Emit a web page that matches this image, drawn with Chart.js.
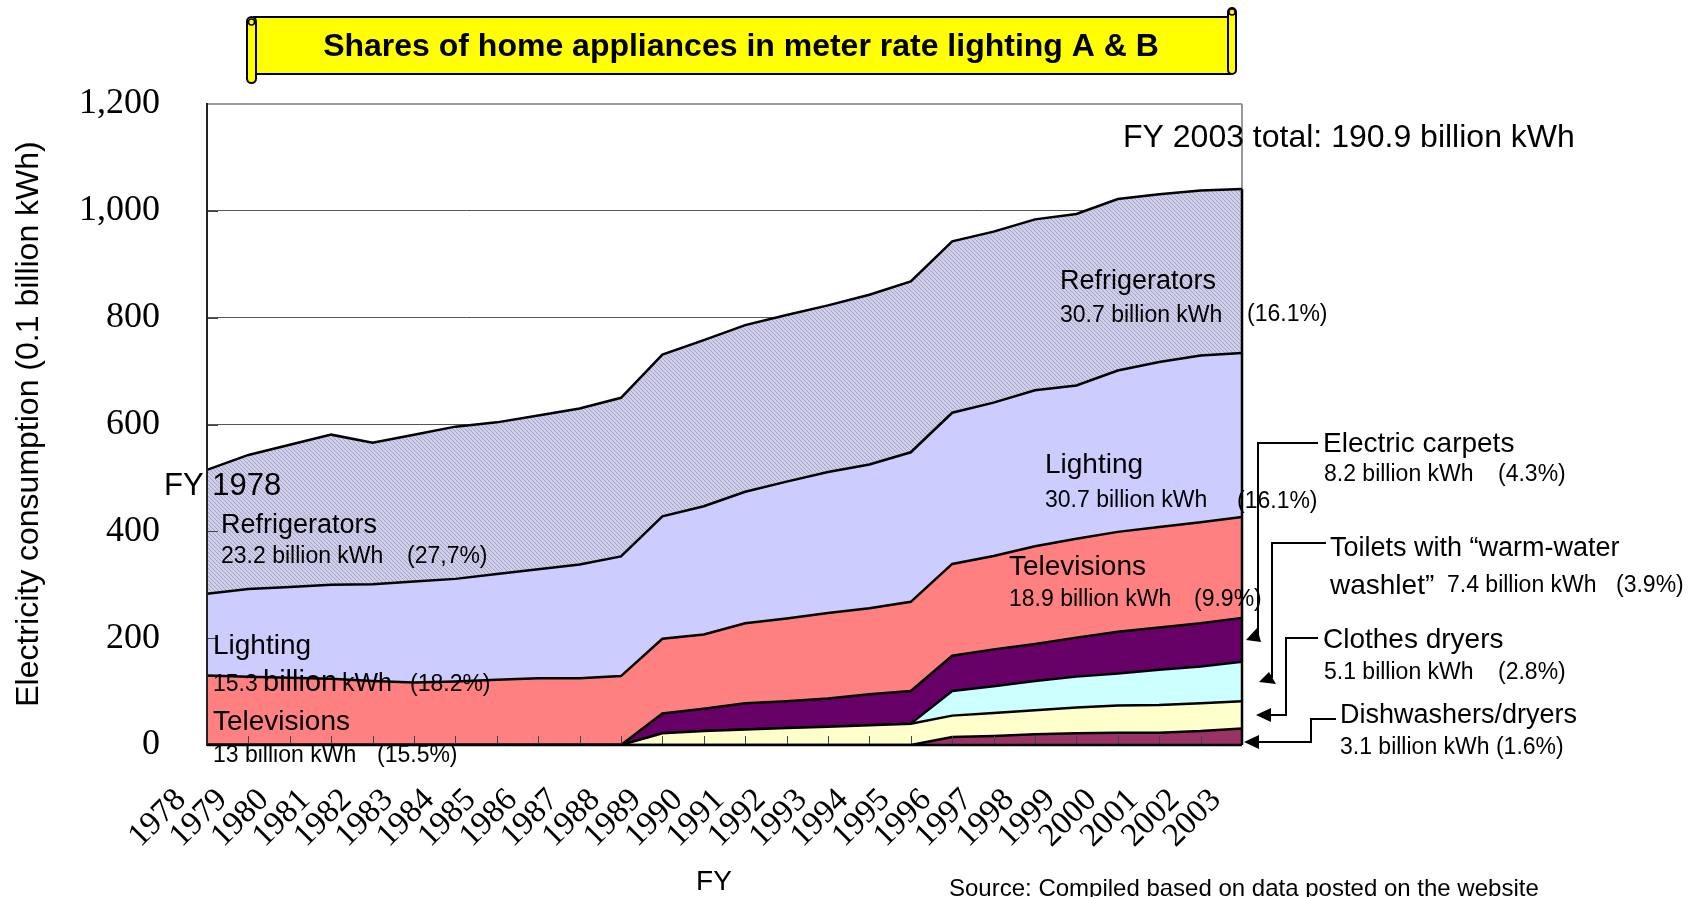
<!DOCTYPE html>
<html>
<head>
<meta charset="utf-8">
<title>Shares of home appliances in meter rate lighting A & B</title>
<script src="https://cdn.jsdelivr.net/npm/chart.js@4.4.1/dist/chart.umd.min.js"></script>
<style>
  html, body { margin: 0; padding: 0; background: #fff; }
  #wrap { width: 1690px; height: 897px; }
</style>
</head>
<body>
<div id="wrap"><canvas id="chart" width="1690" height="897"></canvas></div>
<script>
// fiscal years on the x axis
const years = ['1978', '1979', '1980', '1981', '1982', '1983', '1984', '1985', '1986', '1987', '1988', '1989', '1990',
    '1991', '1992', '1993', '1994', '1995', '1996', '1997', '1998', '1999', '2000', '2001', '2002', '2003'];

// consumption per appliance, unit 0.1 billion kWh (stacked bottom -> top)
const dishwashers = [0, 0, 0, 0, 0, 0, 0, 0, 0, 0, 0, 0, 0, 0, 0, 0, 0, 0, 15, 17, 20, 22, 23, 23, 26, 31];
const clothesDryers = [0, 0, 0, 0, 0, 0, 0, 0, 0, 0, 0, 22, 26, 29, 32, 34, 37, 40, 40, 43, 45, 48, 51, 52, 52, 51];
const toilets = [0, 0, 0, 0, 0, 0, 0, 0, 0, 0, 0, 0, 0, 0, 0, 0, 0, 0, 46, 50, 55, 58, 60, 66, 69, 74];
const carpets = [0, 0, 0, 0, 0, 0, 0, 0, 0, 0, 0, 37, 42, 49, 50, 53, 58, 61, 66, 69, 69, 73, 78, 79, 81, 82];
const televisions = [130, 128, 126, 124, 120, 117, 119, 122, 125, 125, 129, 140, 139, 150, 155, 160, 161, 167, 172, 175,
    183, 185, 187, 188, 189, 189];
const lighting = [153, 164, 170, 176, 181, 189, 192, 198, 204, 213, 224, 229, 240, 246, 256, 264, 269, 280, 283, 287,
    292, 287, 302, 309, 312, 307];
const refrigerators = [232, 251, 266, 281, 265, 275, 285, 284, 288, 292, 297, 303, 311, 312, 312, 312, 318, 320, 321, 320,
    320, 321, 321, 314, 309, 307];

const SANS = "'Liberation Sans', Arial, sans-serif";
const SERIF = "'Liberation Serif', 'Times New Roman', serif";

/**
 * fine diagonal hatch used for the refrigerator band
 */
function hatchPattern() {
    const c = document.createElement('canvas');
    c.width = 4;
    c.height = 4;
    const g = c.getContext('2d');
    g.fillStyle = '#CFCFEA';
    g.fillRect(0, 0, 4, 4);
    g.strokeStyle = '#A4A4CA';
    g.lineWidth = 1;
    g.beginPath();
    g.moveTo(-1, -1);
    g.lineTo(5, 5);
    g.moveTo(-1, 3);
    g.lineTo(1, 5);
    g.moveTo(3, -1);
    g.lineTo(5, 1);
    g.stroke();
    return g.createPattern(c, 'repeat');
}

// text annotations: [text, x, y, size, baseline]
const notes = [
    ['FY 2003 total: 190.9 billion kWh', 1123, 138, 32],
    ['FY 1978', 164, 486, 31],
    ['Refrigerators', 221, 526, 27],
    ['23.2 billion kWh', 221, 557, 23],
    ['(27,7%)', 407, 557, 23],
    ['Lighting', 213, 646, 28],
    ['15.3', 213, 691, 23, 'alphabetic'],
    ['billion', 263, 691, 29, 'alphabetic'],
    ['kWh', 342, 691, 25, 'alphabetic'],
    ['(18.2%)', 410, 691, 23, 'alphabetic'],
    ['Televisions', 213, 722, 28],
    ['13 billion kWh', 213, 756, 23],
    ['(15.5%)', 377, 756, 23],
    ['Refrigerators', 1060, 282, 27],
    ['30.7 billion kWh', 1060, 316, 23],
    ['(16.1%)', 1247, 315, 23],
    ['Lighting', 1045, 465, 28],
    ['30.7 billion kWh', 1045, 501, 23],
    ['(16.1%)', 1237, 502, 23],
    ['Televisions', 1009, 567, 28],
    ['18.9 billion kWh', 1009, 600, 23],
    ['(9.9%)', 1194, 600, 23],
    ['Electric carpets', 1323, 444, 28],
    ['8.2 billion kWh', 1324, 475, 23],
    ['(4.3%)', 1498, 475, 23],
    ['Toilets with \u201cwarm-water', 1330, 549, 27],
    ['washlet\u201d', 1330, 586, 28],
    ['7.4 billion kWh', 1447, 586, 23],
    ['(3.9%)', 1616, 586, 23],
    ['Clothes dryers', 1323, 640, 28],
    ['5.1 billion kWh', 1324, 673, 23],
    ['(2.8%)', 1498, 673, 23],
    ['Dishwashers/dryers', 1340, 716, 27],
    ['3.1 billion kWh (1.6%)', 1340, 748, 23],
    ['Source: Compiled based on data posted on the website', 949, 889, 24]
];

// call-out lines from the right-hand labels: polyline + arrow head
const callouts = [
    { path: [[1318, 443], [1258, 443], [1258, 636]], head: [[1257, 628], [1261, 642], [1246, 640]] },
    { path: [[1326, 543], [1272, 543], [1272, 678]], head: [[1269, 672], [1276, 684], [1259, 682]] },
    { path: [[1318, 638], [1286, 638], [1286, 715], [1268, 715]], head: [[1256, 715], [1271, 708], [1271, 722]] },
    { path: [[1336, 719], [1311, 719], [1311, 742], [1258, 742]], head: [[1244, 742], [1259, 735], [1259, 749]] }
];

function roundBox(c, x, y, w, h, r) {
    c.beginPath();
    c.moveTo(x + r, y);
    c.arcTo(x + w, y, x + w, y + h, r);
    c.arcTo(x + w, y + h, x, y + h, r);
    c.arcTo(x, y + h, x, y, r);
    c.arcTo(x, y, x + w, y, r);
    c.closePath();
    c.fill();
    c.stroke();
}

// yellow scroll with the title
function drawBanner(c) {
    c.save();
    c.fillStyle = '#FFFF00';
    c.strokeStyle = '#000';
    c.lineWidth = 2;
    c.beginPath();
    c.rect(254, 17, 976, 57);
    c.fill();
    c.stroke();
    roundBox(c, 247, 17, 9, 66, 4.5);
    roundBox(c, 1228, 8, 8, 66, 4);
    c.lineWidth = 1.5;
    c.beginPath();
    c.arc(251.5, 22, 3, 0, Math.PI * 2);
    c.stroke();
    c.beginPath();
    c.arc(1232, 12, 3, 0, Math.PI * 2);
    c.stroke();
    c.fillStyle = '#000';
    c.font = 'bold 32px ' + SANS;
    c.textAlign = 'center';
    c.textBaseline = 'middle';
    c.fillText('Shares of home appliances in meter rate lighting A & B', 741, 47);
    c.restore();
}

const decor = {
    id: 'decor',
    beforeDatasetsDraw(chart) {
        const c = chart.ctx;
        const a = chart.chartArea;
        c.save();
        c.strokeStyle = '#999';
        c.lineWidth = 2;
        c.beginPath();
        c.moveTo(a.right, a.top);
        c.lineTo(a.right, a.bottom);
        c.stroke();
        c.restore();
    },
    afterDatasetsDraw(chart) {
        const c = chart.ctx;
        const a = chart.chartArea;
        const xs = chart.scales.x;
        const ys = chart.scales.y;
        const last = years.length - 1;
        const top = dishwashers[last] + clothesDryers[last] + toilets[last] + carpets[last] +
            televisions[last] + lighting[last] + refrigerators[last];
        c.save();
        // small inner tick marks
        c.strokeStyle = '#444';
        c.lineWidth = 1;
        c.beginPath();
        for (let i = 1; i < last; i++) {
            const x = Math.round(xs.getPixelForValue(i)) + 0.5;
            c.moveTo(x, a.bottom);
            c.lineTo(x, a.bottom - 9);
        }
        for (let v = 200; v < 1200; v += 200) {
            const y = Math.round(ys.getPixelForValue(v)) + 0.5;
            c.moveTo(a.left, y);
            c.lineTo(a.left + 11, y);
        }
        c.stroke();
        // outline of the stack at both ends and the axes
        c.strokeStyle = '#000';
        c.lineWidth = 2.5;
        c.beginPath();
        c.moveTo(xs.getPixelForValue(last), ys.getPixelForValue(0));
        c.lineTo(xs.getPixelForValue(last), ys.getPixelForValue(top));
        c.moveTo(a.left, a.bottom);
        c.lineTo(a.right, a.bottom);
        c.stroke();
        c.strokeStyle = '#222';
        c.lineWidth = 2;
        c.beginPath();
        c.moveTo(a.left, a.top);
        c.lineTo(a.left, a.bottom);
        c.stroke();
        c.restore();
    },
    afterDraw(chart) {
        const c = chart.ctx;
        drawBanner(c);
        c.save();
        c.fillStyle = '#000';
        c.textAlign = 'left';
        notes.forEach(n => {
            c.font = n[3] + 'px ' + SANS;
            c.textBaseline = n[4] || 'middle';
            c.fillText(n[0], n[1], n[2]);
        });
        // axis titles
        c.textAlign = 'center';
        c.textBaseline = 'middle';
        c.font = '28px ' + SANS;
        c.fillText('FY', 714, 882);
        c.translate(29, 424);
        c.rotate(-Math.PI / 2);
        c.font = '32px ' + SANS;
        c.fillText('Electricity consumption (0.1 billion kWh)', 0, 0);
        c.restore();
        // call-outs
        c.save();
        c.strokeStyle = '#000';
        c.fillStyle = '#000';
        c.lineWidth = 2;
        callouts.forEach(o => {
            c.beginPath();
            o.path.forEach((p, i) => i ? c.lineTo(p[0], p[1]) : c.moveTo(p[0], p[1]));
            c.stroke();
            c.beginPath();
            o.head.forEach((p, i) => i ? c.lineTo(p[0], p[1]) : c.moveTo(p[0], p[1]));
            c.closePath();
            c.fill();
        });
        c.restore();
    }
};

function band(label, values, color, first) {
    return {
        label: label,
        data: values,
        backgroundColor: color,
        borderColor: '#000',
        borderWidth: 2.5,
        fill: first ? 'origin' : '-1',
        pointRadius: 0,
        tension: 0
    };
}

const ctx = document.getElementById('chart');
new Chart(ctx, {
    type: 'line',
    data: {
        labels: years,
        datasets: [
            band('Dishwashers/dryers', dishwashers, '#993366', true),
            band('Clothes dryers', clothesDryers, '#FFFFCC'),
            band('Toilets with warm-water washlet', toilets, '#CCFFFF'),
            band('Electric carpets', carpets, '#660066'),
            band('Televisions', televisions, '#FF8080'),
            band('Lighting', lighting, '#CCCCFF'),
            band('Refrigerators', refrigerators, hatchPattern())
        ]
    },
    options: {
        responsive: false,
        animation: false,
        events: [],
        layout: { padding: { left: 0, right: 448, top: 104, bottom: 0 } },
        plugins: {
            legend: { display: false },
            tooltip: { enabled: false },
            title: { display: false }
        },
        scales: {
            x: {
                offset: false,
                grid: { display: false, drawTicks: false },
                border: { display: false },
                ticks: {
                    autoSkip: false,
                    minRotation: 45,
                    maxRotation: 45,
                    padding: 36,
                    labelOffset: -26,
                    color: '#000',
                    font: { family: SERIF, size: 33 }
                },
                afterFit: s => { s.height = 152; }
            },
            y: {
                stacked: true,
                min: 0,
                max: 1200,
                ticks: {
                    stepSize: 200,
                    padding: 47,
                    color: '#000',
                    font: { family: SERIF, size: 36 }
                },
                grid: {
                    drawTicks: false,
                    color: c => c.tick && c.tick.value === 1200 ? '#999' : '#555',
                    lineWidth: c => c.tick && c.tick.value === 1200 ? 2 : 1
                },
                border: { display: true, color: '#222', width: 2 },
                afterFit: s => { s.width = 207; }
            }
        }
    },
    plugins: [decor]
});
</script>
</body>
</html>
